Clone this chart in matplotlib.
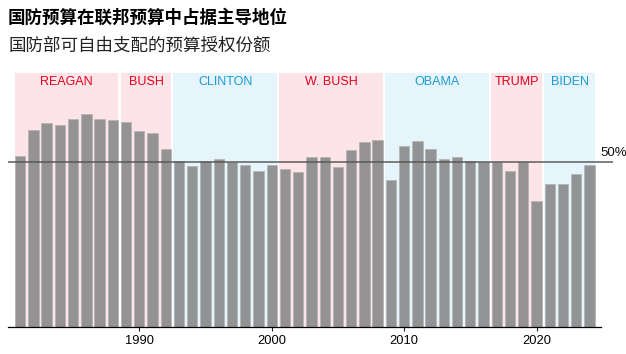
import numpy as np
import matplotlib.pyplot as plt
import matplotlib.transforms as mtransforms

plt.rcParams['font.family'] = ['Liberation Sans', 'Noto Sans CJK SC', 'DejaVu Sans']

# Share of discretionary budget authority going to defense (%), FY1981-2024
years = list(range(1981, 2025))
share = [51.8, 59.8, 61.7, 61.2, 63.0, 64.5, 63.0, 62.9,
         62.0, 59.3, 58.7, 53.9,
         50.3, 48.9, 50.4, 50.8, 50.0, 49.1, 47.3, 49.2,
         47.8, 46.9, 51.5, 51.6, 48.5, 53.7, 56.2, 56.6,
         44.7, 54.8, 56.4, 53.9, 50.8, 51.4, 50.3, 50.0,
         50.0, 47.2, 50.0, 38.1,
         43.5, 43.4, 46.4, 49.0]

presidents = ['REAGAN', 'BUSH', 'CLINTON', 'W. BUSH', 'OBAMA', 'TRUMP', 'BIDEN']
term_start = [1981, 1989, 1993, 2001, 2009, 2017, 2021]
term_end = [1988, 1992, 2000, 2008, 2016, 2020, 2024]
party = ['R', 'R', 'D', 'R', 'D', 'R', 'D']

tick_years = [1990, 2000, 2010, 2020]

bg = {'R': '#fde4e8', 'D': '#e6f5fc'}
fg = {'R': '#e2001a', 'D': '#1b9ad6'}

fig = plt.figure(figsize=(6.26, 3.54), dpi=100)
ax = fig.add_axes([8 / 626, 27 / 354, 593 / 626, 254 / 354])

# shaded presidential terms
for name, s, e, p in zip(presidents, term_start, term_end, party):
    ax.axvspan(s - 0.42, e + 0.42, color=bg[p], lw=0, zorder=0)
    ax.text((s + e) / 2, 74.2, name, ha='center', va='center',
            color=fg[p], fontsize=9)

ax.bar(years, share, width=0.78, color='#8b8b8b', alpha=0.92,
       edgecolor='#b4b4b4', linewidth=0.6, zorder=2)

# 50% reference line
trans = mtransforms.blended_transform_factory(ax.transAxes, ax.transData)
ax.plot([0.002, 1.019], [50, 50], transform=trans, color='#555555',
        alpha=0.75, lw=1.4, clip_on=False, zorder=3)
ax.text(0.999, 52.6, '50%', transform=trans, fontsize=9.5, ha='left',
        va='center', color='#111111')

ax.set_xlim(1980.08, 2024.87)
ax.set_ylim(0, 77)
ax.set_yticks([])
ax.set_xticks(tick_years)
ax.set_xticklabels([str(y) for y in tick_years], fontsize=9.3)
ax.tick_params(axis='x', length=3, width=0.8, pad=3, color='#222222')
for side in ['top', 'right', 'left']:
    ax.spines[side].set_visible(False)
ax.spines['bottom'].set_linewidth(0.9)
ax.spines['bottom'].set_zorder(4)

fig.text(8 / 626, 1 - 18 / 354, '国防预算在联邦预算中占据主导地位',
         fontsize=12.6, fontweight='bold', va='center', ha='left',
         family=['Noto Sans CJK SC', 'DejaVu Sans'])
fig.text(8 / 626, 1 - 46 / 354, '国防部可自由支配的预算授权份额',
         fontsize=12.6, va='center', ha='left', color='#222222',
         family=['Noto Sans CJK SC', 'DejaVu Sans'])

fig.savefig('out.png', dpi=100)
